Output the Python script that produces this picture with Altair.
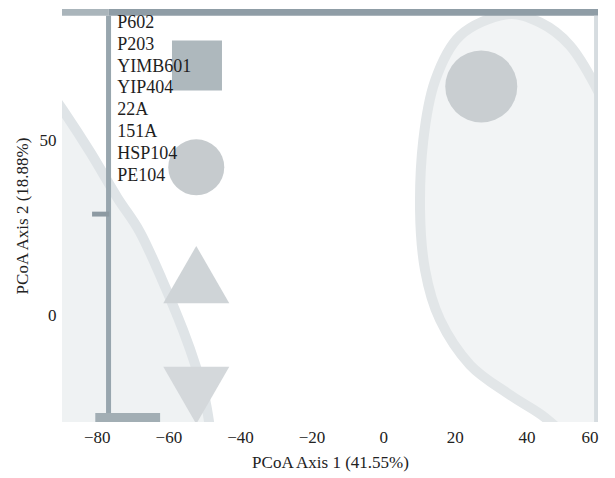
import altair as alt
import pandas as pd

# ---- axis ranges and ticks ----
x_domain = [-89.7, 60.0]
y_domain = [-30.6, 87.6]
x_ticks = [-80, -60, -40, -20, 0, 20, 40, 60]
y_ticks = [0, 50]

# ---- group labels listed down the left side ----
groups = ["P602", "P203", "YIMB601", "YIP404", "22A", "151A", "HSP104", "PE104"]
label_x = [-74.3] * 8
label_y = [83.7, 77.4, 71.1, 64.9, 58.6, 52.3, 46.0, 39.7]

# ---- group symbols ----
sym_shape = ["square", "circle", "triangle-up", "triangle-down", "circle"]
sym_x = [-52.0, -52.2, -52.2, -52.2, 27.4]
sym_y = [71.4, 42.3, 11.6, -23.0, 65.4]
sym_size = [2500, 3136, 4356, 4356, 5184]
sym_color = ["#aeb8bd", "#c6cbce", "#cfd4d7", "#d4d8db", "#c9ced1"]

# ---- right confidence ellipse outline (runs off the lower-right corner) ----
ell_r_x = [34.1, 43.9, 52.2, 59.2, 66.2, 74.6, 80.2, 81.6, 77.4, 66.2,
           55.0, 45.3, 35.5, 24.3, 15.9, 11.7, 10.3, 11.2, 14.5, 21.5]
ell_r_y = [86.0, 83.7, 77.1, 65.7, 50.0, 27.1, 1.4, -24.3, -44.3, -50.0,
           -38.6, -29.4, -22.9, -14.3, -1.4, 12.9, 30.0, 50.0, 67.1, 80.0]

# ---- left confidence ellipse (right-hand edge only inside the panel) ----
ell_l_x = [-94.4, -89.4, -81.8, -74.3, -67.9, -61.7, -55.9, -52.0, -49.7, -48.3]
ell_l_y = [65.7, 58.6, 46.6, 33.7, 23.7, 10.0, -4.3, -15.7, -24.3, -32.9]
ell_l_base = [-100.0] * 10

# ---- heavy bands: x0, x1, y0, y1, colour ----
band_x0 = [-89.7, -76.7, -77.4, 58.9, -80.4, -81.3]
band_x1 = [-76.7, 60.0, -76.0, 60.0, -62.3, -76.5]
band_y0 = [85.7, 85.7, -30.6, -30.6, -30.6, 28.2]
band_y1 = [87.6, 87.6, 85.7, 85.7, -28.0, 29.6]
band_color = ["#aab5bb", "#8f9da6", "#98a6ae", "#d6dce0", "#a2aeb4", "#8d9aa2"]

xs = alt.Scale(domain=x_domain, nice=False, zero=False)
ys = alt.Scale(domain=y_domain, nice=False, zero=False)
X_AX = alt.Axis(values=x_ticks, title="PCoA Axis 1 (41.55%)", format="d")
Y_AX = alt.Axis(values=y_ticks, title="PCoA Axis 2 (18.88%)", format="d")

labels_df = pd.DataFrame({"g": groups, "x": label_x, "y": label_y})
sym_df = pd.DataFrame({"shape": sym_shape, "x": sym_x, "y": sym_y,
                       "size": sym_size, "color": sym_color})
ell_r_df = pd.DataFrame({"x": ell_r_x, "y": ell_r_y, "i": list(range(len(ell_r_x)))})
ell_l_df = pd.DataFrame({"x": ell_l_x, "y": ell_l_y, "base": ell_l_base,
                         "i": list(range(len(ell_l_x)))})
band_df = pd.DataFrame({"x0": band_x0, "x1": band_x1, "y0": band_y0,
                        "y1": band_y1, "color": band_color})

left_fill = alt.Chart(ell_l_df).mark_area(
    orient="horizontal", interpolate="cardinal", color="#eff2f3", clip=True
).encode(
    y=alt.Y("y:Q", scale=ys, axis=Y_AX),
    x=alt.X("x:Q", scale=xs, axis=X_AX),
    x2="base:Q",
)

left_edge = alt.Chart(ell_l_df).mark_line(
    interpolate="cardinal", color="#dfe4e7", strokeWidth=10, clip=True
).encode(
    x=alt.X("x:Q", scale=xs), y=alt.Y("y:Q", scale=ys), order="i:Q"
)

right_ell = alt.Chart(ell_r_df).mark_line(
    interpolate="cardinal-closed", fill="#f2f4f5", stroke="#e2e6e8",
    strokeWidth=10, clip=True
).encode(
    x=alt.X("x:Q", scale=xs), y=alt.Y("y:Q", scale=ys), order="i:Q"
)

bands = alt.Chart(band_df).mark_rect(clip=True).encode(
    x=alt.X("x0:Q", scale=xs), x2="x1:Q",
    y=alt.Y("y0:Q", scale=ys), y2="y1:Q",
    color=alt.Color("color:N", scale=None),
)

symbols = alt.Chart(sym_df).mark_point(filled=True, opacity=1, clip=True).encode(
    x=alt.X("x:Q", scale=xs), y=alt.Y("y:Q", scale=ys),
    shape=alt.Shape("shape:N", scale=None),
    size=alt.Size("size:Q", scale=None),
    color=alt.Color("color:N", scale=None),
)

labels = alt.Chart(labels_df).mark_text(
    align="left", baseline="middle", font="Liberation Serif",
    fontSize=18, color="#1e1e1e"
).encode(
    x=alt.X("x:Q", scale=xs), y=alt.Y("y:Q", scale=ys), text="g:N"
)

chart = alt.layer(
    left_fill, left_edge, right_ell, symbols, bands, labels
).properties(
    width=536, height=413,
    autosize=alt.AutoSizeParams(type="none"),
    padding={"left": 62, "top": 9, "right": 17, "bottom": 56},
).configure_view(
    stroke=None
).configure_axis(
    domain=False, ticks=False, grid=False,
    labelFont="Liberation Serif", labelFontSize=17, labelColor="#222222",
    titleFont="Liberation Serif", titleFontSize=17, titleFontWeight="normal",
    titleColor="#222222",
).configure_axisX(
    labelPadding=7, titlePadding=9
).configure_axisY(
    labelPadding=6, titlePadding=8
)

chart.save("out.html", embed_options={"renderer": "svg", "actions": False})
